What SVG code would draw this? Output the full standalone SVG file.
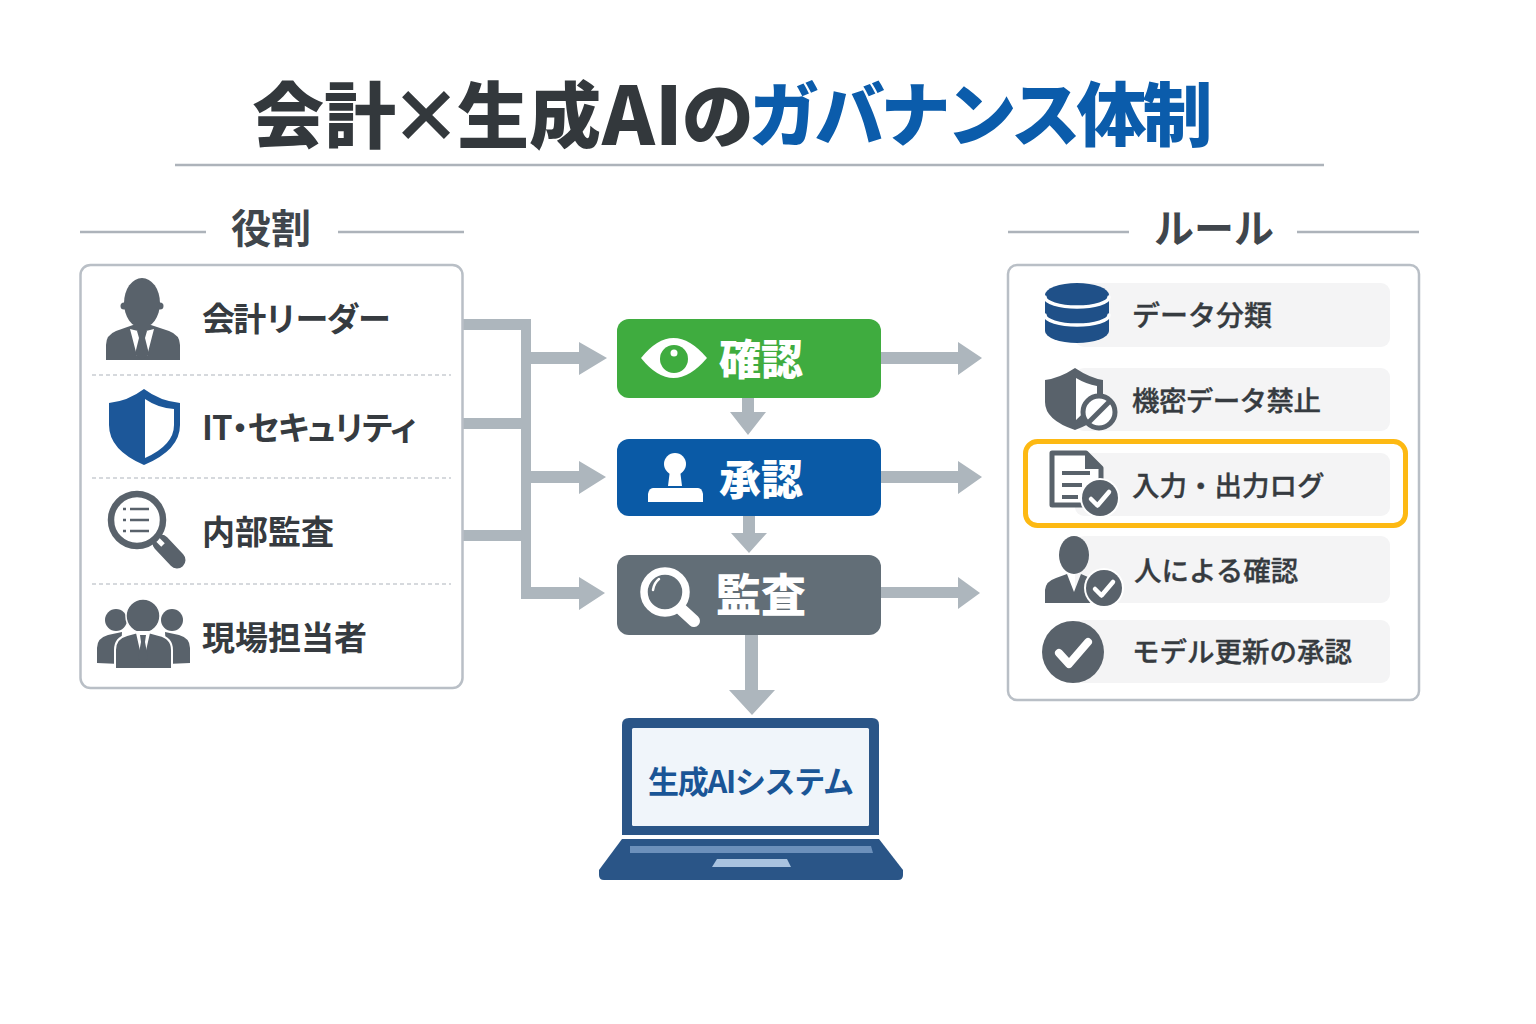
<svg xmlns="http://www.w3.org/2000/svg" width="1536" height="1024" viewBox="0 0 1536 1024">
<style>
text{font-family:"Noto Sans CJK JP","Noto Sans",sans-serif;dominant-baseline:central}
.title{font-size:72px;font-weight:900;fill:#33383c}
.title2{font-size:70px;fill:#0b5cab;letter-spacing:-4.2px}
.head{font-size:40px;font-weight:700;fill:#40464c}
.role{font-size:33px;font-weight:700;fill:#363b40}
.rule{font-size:27.5px;font-weight:500;fill:#363b40;stroke:#363b40;stroke-width:.35}
.step{font-size:42px;font-weight:900;fill:#fff}
.panel{fill:#fff;stroke:#b9bfc6;stroke-width:2.5}
.rule-line{stroke:#adb3ba;stroke-width:2.5}
.dash{stroke:#c9cdd2;stroke-width:1.3;stroke-dasharray:4 3}
.row{fill:#f4f4f5}
.ic{fill:#59626b}
.wh{fill:#fff}
.wline{fill:none;stroke:#fff;stroke-linecap:round;stroke-linejoin:round}
.conn{fill:#adb6bd}
</style>
<defs>
<g id="badge"><circle r="20" fill="#fff"/><circle r="18" fill="#59626b"/><path d="M-9 1L-2.500 7.500L9 -6" class="wline" stroke-width="4.500"/></g>
</defs>
<rect width="1536" height="1024" fill="#fff"/>
<g id="title">
<text class="title" x="252" y="110">会計<tspan dx="-6">×</tspan><tspan dx="-5">生成</tspan><tspan dx="1" style="font-size:80px">AI</tspan><tspan dx="-1">の</tspan><tspan class="title2" x="749">ガバナンス体制</tspan></text>
<line class="rule-line" x1="175" y1="165" x2="1324" y2="165"/>
</g>
<g id="connectors">
<path class="conn" d="M463 319H531V342V352H579V342L607 358L579 375V364H531V471H579V461L606 477L579 494V483H531V587H579V577L605 593L579 610V599H521V541H463V530H521V429H463V418H521V330H463Z"/>
<path class="conn" d="M881 352H958V342L982 358L958 375V364H881Z"/>
<path class="conn" d="M881 471H958V461L982 477L958 494V483H881Z"/>
<path class="conn" d="M881 587H958V577L980 593L958 609V598H881Z"/>
<path class="conn" d="M742 398H754V412H766L748 435L730 412H742Z"/>
<path class="conn" d="M743 516H755V533H767L749 553L731 533H743Z"/>
<path class="conn" d="M745 635H758V690H775L752 715L729 690H745Z"/>
</g>
<g id="roles">
<text class="head" x="231" y="226">役割</text>
<line class="rule-line" x1="80" y1="232" x2="206" y2="232"/>
<line class="rule-line" x1="338" y1="232" x2="464" y2="232"/>
<rect class="panel" x="80.5" y="265" width="382" height="423" rx="10"/>
<line class="dash" x1="92" y1="375" x2="451" y2="375"/>
<line class="dash" x1="92" y1="478" x2="451" y2="478"/>
<line class="dash" x1="92" y1="584" x2="451" y2="584"/>
</g>
<g id="role-leader">
<ellipse class="ic" cx="142" cy="303" rx="18" ry="25"/>
<circle class="ic" cx="124" cy="306" r="3.500"/><circle class="ic" cx="160" cy="306" r="3.500"/>
<path class="ic" d="M106 360V345Q106 335 116 331L133 325H151L169 331Q180 335 180 345V360Z"/>
<path class="wh" d="M130 329L137 356L142 342L147 356L154 329L142 332Z"/>
<path class="ic" d="M137 331H147L145 338L149 354L142 360L135 354L139 338Z"/>
<text class="role" x="202" y="317" style="letter-spacing:-1.800px">会計リーダー</text>
</g>
<g id="role-it">
<path d="M144 389Q128 401 109 403V425Q109 450 144 465Q180 450 180 425V403Q160 401 144 389Z" fill="#1c5799"/>
<path class="wh" d="M145 399Q158 408 174 409V425Q174 445 145 458Z"/>
<text class="role" x="202" y="426" style="font-feature-settings:'palt';letter-spacing:-.9px">IT・セキュリティ</text>
</g>
<g id="role-audit">
<path d="M161 543L177 560" stroke="#59626b" stroke-width="17" stroke-linecap="round"/>
<path d="M155 537L163 545" stroke="#fff" stroke-width="5"/>
<circle cx="137" cy="520" r="26" fill="#fff" stroke="#59626b" stroke-width="6.5"/>
<g stroke="#59626b" stroke-width="2.5"><path d="M130 509H149M130 520H149M130 531H149"/><path d="M123 509H126M123 520H126M123 531H126"/></g>
<text class="role" x="202" y="530">内部監査</text>
</g>
<g id="role-staff">
<circle class="ic" cx="116" cy="620" r="11"/><circle class="ic" cx="172" cy="620" r="11"/>
<path class="ic" d="M97 663V648Q97 638 108 635L122 632L120 664ZM190 663V648Q190 638 179 635L165 632L167 664Z"/>
<circle cx="143" cy="616" r="17" class="ic" stroke="#fff" stroke-width="1.5"/>
<path class="ic" d="M115 669V650Q115 638 127 635L138 632H148L159 635Q172 638 172 650V669Z" stroke="#fff" stroke-width="2"/>
<path class="wh" d="M136 633L141 655L143 645L145 655L150 633Z"/>
<path class="ic" d="M140 635H146L145 642L148 658L143 665L138 658L141 642Z"/>
<text class="role" x="202" y="636">現場担当者</text>
</g>
<g id="steps">
<g id="step-check">
<rect x="617" y="319" width="264" height="79" rx="12" fill="#3fac3f"/>
<path class="wh" d="M641 358Q673 318 707 358Q673 398 641 358Z"/>
<circle cx="674" cy="359" r="14" fill="#3fac3f"/><circle cx="674" cy="353" r="3.500" fill="#fff"/>
<text class="step" x="719" y="356">確認</text>
</g>
<g id="step-approve">
<rect x="617" y="439" width="264" height="77" rx="12" fill="#0a5aa6"/>
<circle class="wh" cx="675" cy="464" r="11"/>
<path class="wh" d="M670 470H680L682 486H668Z"/>
<path class="wh" d="M653 488H698Q702 488 703 494V502H648V494Q649 488 653 488Z"/>
<text class="step" x="719" y="476">承認</text>
</g>
<g id="step-audit">
<rect x="617" y="555" width="264" height="80" rx="12" fill="#626e77"/>
<circle cx="665" cy="592" r="21" fill="none" stroke="#fff" stroke-width="7.5"/>
<path d="M682 610L694 621" stroke="#fff" stroke-width="12" stroke-linecap="round"/>
<path d="M653 590Q654 583 659 579" class="wline" stroke-width="2.5"/>
<text class="step" x="716" y="592" style="font-size:45px">監査</text>
</g>
</g>
<g id="rules">
<text class="head" x="1154" y="226">ルール</text>
<line class="rule-line" x1="1008" y1="232" x2="1129" y2="232"/>
<line class="rule-line" x1="1297" y1="232" x2="1419" y2="232"/>
<rect class="panel" x="1008" y="265" width="411" height="435" rx="9"/>
</g>
<g id="rule-data">
<rect class="row" x="1075" y="283" width="315" height="64" rx="9"/>
<path fill="#1f5088" d="M1045 295A32 12 0 0 1 1109 295V331A32 12 0 0 1 1045 331Z"/>
<path class="wline" stroke-width="3.5" d="M1045 297A32 10 0 0 0 1109 297M1045 315A32 10 0 0 0 1109 315" stroke-linecap="butt"/>
<text class="rule" x="1132" y="314" style="font-size:28px">データ分類</text>
</g>
<g id="rule-secret">
<rect class="row" x="1075" y="368" width="315" height="63" rx="9"/>
<path class="ic" d="M1075 368Q1060 378 1045 380V402Q1045 420 1075 430Q1103 420 1103 402V380Q1090 378 1075 368Z"/>
<path class="wh" d="M1076 378Q1086 384 1097 386V400L1076 420Z"/>
<circle cx="1099" cy="412" r="16" fill="#fff" stroke="#59626b" stroke-width="5"/>
<path d="M1089 422L1109 402" stroke="#59626b" stroke-width="5"/>
<text class="rule" x="1132" y="399" style="letter-spacing:-.6px">機密データ禁止</text>
</g>
<g id="rule-log">
<rect class="row" x="1075" y="453" width="315" height="63" rx="9"/>
<rect x="1025.500" y="441.500" width="380" height="84" rx="12" fill="none" stroke="#fdb913" stroke-width="5"/>
<path d="M1052 453H1086L1101 468V505H1052Z" fill="#fff" stroke="#59626b" stroke-width="5" stroke-linejoin="round"/>
<path class="ic" d="M1085 451L1103 469H1085Z"/>
<path d="M1062 473H1090M1062 485H1082M1062 497H1078" stroke="#59626b" stroke-width="4"/>
<use href="#badge" x="1100" y="498"/>
<text class="rule" x="1132" y="484">入力・出力ログ</text>
</g>
<g id="rule-human">
<rect class="row" x="1075" y="536" width="315" height="67" rx="9"/>
<ellipse class="ic" cx="1074" cy="555" rx="15" ry="19"/>
<path class="ic" d="M1045 603V590Q1046 581 1056 578L1067 574L1074 592L1081 574L1095 580L1100 603Z"/>
<use href="#badge" x="1104" y="588"/>
<text class="rule" x="1134" y="569">人による確認</text>
</g>
<g id="rule-model">
<rect class="row" x="1075" y="620" width="315" height="63" rx="9"/>
<circle class="ic" cx="1073" cy="652" r="31"/>
<path class="wline" stroke-width="8" d="M1059 653L1069 664L1088 642"/>
<text class="rule" x="1132" y="650">モデル更新の承認</text>
</g>
<g id="system">
<path d="M629 718H872Q879 718 879 725V835H622V725Q622 718 629 718Z" fill="#2a5587"/>
<rect x="632" y="728" width="237" height="98" rx="1.500" fill="#f0f5fa"/>
<path d="M622 839H879L903 870V875Q903 880 898 880H604Q599 880 599 875V870Z" fill="#2a5587"/>
<path d="M630 846H871L873 853H630Z" fill="#6c90bb"/>
<path d="M717 859H787L791 867H712Z" fill="#a9c3e0"/>
<text x="648" y="779" style="font-size:31px;font-weight:700;fill:#1a5596;letter-spacing:-1.300px">生成AIシステム</text>
</g>
</svg>
